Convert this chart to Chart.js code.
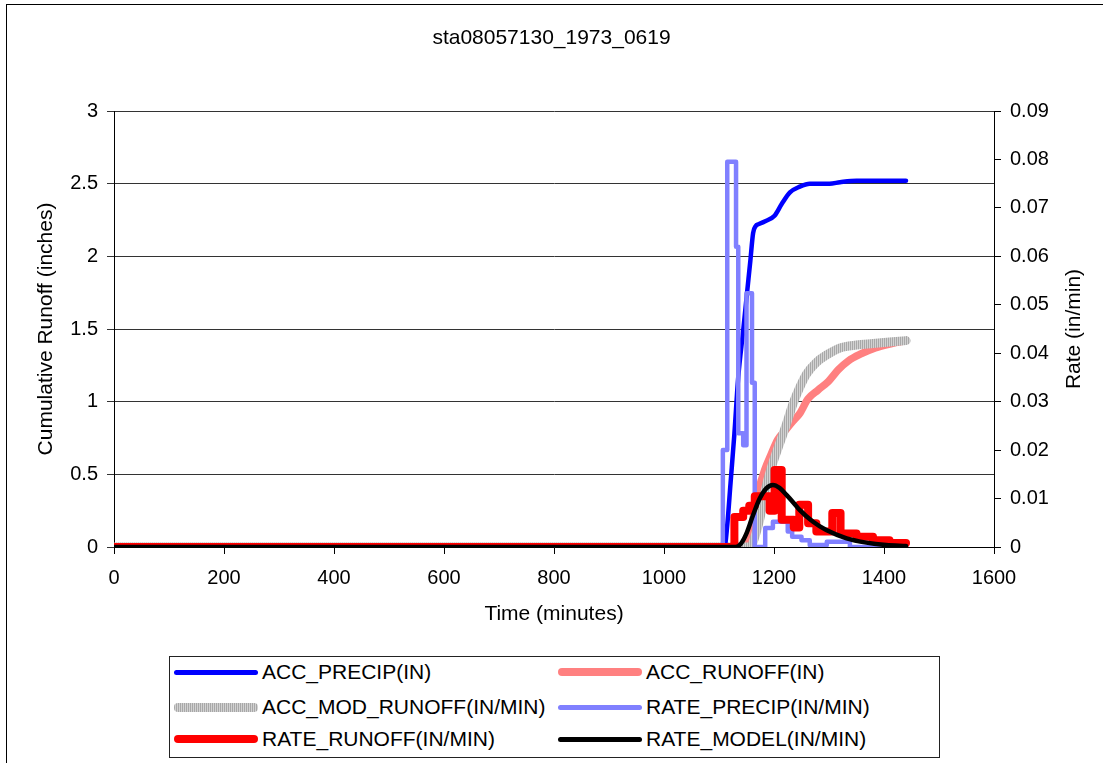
<!DOCTYPE html>
<html>
<head>
<meta charset="utf-8">
<script src="https://cdn.jsdelivr.net/npm/chart.js@4"></script>
<style>
  html, body { margin: 0; padding: 0; background: #fff; overflow: hidden; }
  #page { position: relative; width: 1103px; height: 763px; overflow: hidden; }
  #frame { position: absolute; left: 6px; top: 4px; width: 1200px; height: 900px;
           border-left: 1px solid #000; border-top: 1px solid #000; }
  #wrap { position: absolute; left: 0; top: 0; width: 1103px; height: 763px; }
  #legend { position: absolute; left: 169px; top: 656px; width: 769px; height: 100px;
            border: 1px solid #222; background: #fff;
            font-family: "Liberation Sans", Arial, sans-serif; font-size: 21px; color: #000; }
  .item { position: absolute; height: 24px; line-height: 24px; white-space: nowrap; }
  .swatch { position: absolute; left: 0; width: 84px; border-radius: 4px; }
  .label { position: absolute; left: 88px; top: 0; }
</style>
</head>
<body>
<div id="page">
  <div id="frame"></div>
  <div id="wrap"><canvas id="runoffChart"></canvas></div>
  <div id="legend"></div>
</div>
<script>
// ---- data (time in minutes) ----
const chartTitle = 'sta08057130_1973_0619';

const accPrecipTime = [0, 1110, 1115, 1121, 1128, 1135, 1144, 1151, 1157, 1162, 1167, 1171, 1183, 1201, 1214, 1229, 1247, 1265, 1301, 1320, 1350, 1440];
const accPrecipIn   = [0, 0, 0.15, 0.44, 0.78, 1.17, 1.49, 1.75, 1.97, 2.16, 2.21, 2.22, 2.24, 2.28, 2.36, 2.44, 2.48, 2.50, 2.50, 2.51, 2.52, 2.52];

const accRunoffTime = [0, 1148, 1156, 1163, 1172, 1183, 1195, 1207, 1220, 1233, 1247, 1262, 1280, 1299, 1317, 1335, 1359, 1384, 1414, 1440];
const accRunoffIn   = [0, 0, 0.08, 0.22, 0.39, 0.53, 0.64, 0.74, 0.80, 0.86, 0.92, 1.02, 1.08, 1.14, 1.22, 1.28, 1.33, 1.37, 1.40, 1.42];

const accModTime = [0, 1150, 1159, 1166, 1174, 1186, 1198, 1211, 1223, 1235, 1247, 1259, 1277, 1295, 1320, 1350, 1380, 1440];
const accModIn   = [0, 0, 0.01, 0.08, 0.19, 0.42, 0.58, 0.72, 0.85, 0.99, 1.10, 1.19, 1.27, 1.32, 1.37, 1.39, 1.40, 1.42];

// step series: each value holds until the next time
const ratePrecipTime = [0, 1107, 1115, 1131, 1135, 1144, 1150, 1160, 1165, 1184, 1198, 1225, 1233, 1250, 1265, 1296, 1338, 1440];
const ratePrecip     = [0, 0.020, 0.0795, 0.062, 0.0235, 0.021, 0.0524, 0.0339, 0, 0.0039, 0.0052, 0.0032, 0.0021, 0.0014, 0.0004, 0.0011, 0, 0];

const rateRunoffTime = [0, 1128, 1144, 1155, 1165, 1192, 1201, 1214, 1236, 1246, 1262, 1277, 1306, 1321, 1350, 1380, 1410, 1440];
const rateRunoff     = [0, 0.0062, 0.0075, 0.0085, 0.0105, 0.0075, 0.0159, 0.0056, 0.0040, 0.0087, 0.0049, 0.0032, 0.0070, 0.0028, 0.0021, 0.0014, 0.0008, 0.0008];

const rateModelTime = [0, 1130, 1140, 1150, 1162, 1174, 1186, 1198, 1210, 1223, 1235, 1247, 1271, 1295, 1332, 1368, 1404, 1440];
const rateModel     = [0, 0, 0.0007, 0.0028, 0.0066, 0.0100, 0.0121, 0.0128, 0.0122, 0.0107, 0.0092, 0.0076, 0.0052, 0.0035, 0.0018, 0.0009, 0.0004, 0.0002];

const xTicks = { min: 0, max: 1600, step: 200 };
const yLeftTicks = { min: 0, max: 3, step: 0.5 };
const yRightTicks = { min: 0, max: 0.09, step: 0.01 };

const FONT = '"Liberation Sans", Arial, sans-serif';

function pairs(ts, vs) {
  return ts.map((t, i) => ({ x: t, y: vs[i] }));
}

// grey hatched look of the modelled accumulation
const pc = document.createElement('canvas');
pc.width = 2; pc.height = 2;
const pctx = pc.getContext('2d');
pctx.fillStyle = '#d2d2d2'; pctx.fillRect(0, 0, 2, 2);
pctx.fillStyle = '#a8a8a8'; pctx.fillRect(0, 0, 1, 2);
const greyHatch = pctx.createPattern(pc, 'repeat');

const series = [
  { label: 'ACC_PRECIP(IN)', data: pairs(accPrecipTime, accPrecipIn), yAxisID: 'y',
    color: '#0000ff', width: 4.5, order: 3, smooth: true, swatch: '#0000ff' },
  { label: 'ACC_RUNOFF(IN)', data: pairs(accRunoffTime, accRunoffIn), yAxisID: 'y',
    color: '#ff8080', width: 7.5, order: 5, smooth: true, swatch: '#ff8080' },
  { label: 'ACC_MOD_RUNOFF(IN/MIN)', data: pairs(accModTime, accModIn), yAxisID: 'y',
    color: greyHatch, width: 9, order: 4, smooth: true,
    swatch: 'repeating-linear-gradient(90deg, #a8a8a8 0 1px, #d2d2d2 1px 2px)' },
  { label: 'RATE_PRECIP(IN/MIN)', data: pairs(ratePrecipTime, ratePrecip), yAxisID: 'y2',
    color: '#8080ff', width: 4.5, order: 2, stepped: true, swatch: '#8080ff' },
  { label: 'RATE_RUNOFF(IN/MIN)', data: pairs(rateRunoffTime, rateRunoff), yAxisID: 'y2',
    color: '#ff0000', width: 8, order: 1, stepped: true, swatch: '#ff0000' },
  { label: 'RATE_MODEL(IN/MIN)', data: pairs(rateModelTime, rateModel), yAxisID: 'y2',
    color: '#000000', width: 4.5, order: 0, smooth: true, swatch: '#000000' }
];

const rightTitle = {
  id: 'rightTitle',
  afterDraw(chart) {
    const s = chart.scales.y2;
    const area = chart.chartArea;
    const ctx = chart.ctx;
    ctx.save();
    ctx.translate(s.left + 80, (area.top + area.bottom) / 2);
    ctx.rotate(-Math.PI / 2);
    ctx.font = '21px ' + FONT;
    ctx.fillStyle = '#000';
    ctx.textAlign = 'center';
    ctx.textBaseline = 'middle';
    ctx.fillText('Rate (in/min)', 0, 0);
    ctx.restore();
  }
};

const chart = new Chart('runoffChart', {
  type: 'line',
  data: {
    datasets: series.map(s => ({
      label: s.label,
      data: s.data,
      yAxisID: s.yAxisID,
      xAxisID: 'x',
      borderColor: s.color,
      backgroundColor: s.color,
      borderWidth: s.width,
      borderCapStyle: 'round',
      borderJoinStyle: 'round',
      pointRadius: 0,
      fill: false,
      order: s.order,
      stepped: s.stepped || false,
      cubicInterpolationMode: s.smooth ? 'monotone' : 'default'
    }))
  },
  options: {
    responsive: true,
    maintainAspectRatio: false,
    animation: false,
    events: [],
    layout: { padding: { top: 4, left: 0, right: 0, bottom: 136 } },
    plugins: {
      legend: { display: false },
      tooltip: { enabled: false },
      title: {
        display: true,
        text: chartTitle,
        color: '#000',
        font: { family: FONT, size: 21, weight: 'normal' },
        padding: { top: 22, bottom: 59.8 }
      }
    },
    scales: {
      x: {
        type: 'linear',
        position: 'bottom',
        min: xTicks.min,
        max: xTicks.max,
        afterFit: s => { s.height = 80; },
        ticks: { stepSize: xTicks.step, color: '#000', padding: 12,
                 font: { family: FONT, size: 20 }, maxRotation: 0,
                 callback: v => String(v) },
        grid: { drawOnChartArea: false, drawTicks: true, tickLength: 7, color: '#000' },
        border: { display: true, color: '#000', width: 1 },
        title: { display: true, text: 'Time (minutes)', color: '#000',
                 font: { family: FONT, size: 21 }, padding: { top: 0, bottom: 0 } }
      },
      y: {
        type: 'linear',
        position: 'left',
        min: yLeftTicks.min,
        max: yLeftTicks.max,
        afterFit: s => { s.width = 114; },
        ticks: { stepSize: yLeftTicks.step, color: '#000', padding: 9,
                 font: { family: FONT, size: 20 },
                 callback: v => String(Number(v.toFixed(1))) },
        grid: { drawOnChartArea: true, drawTicks: true, tickLength: 7, color: '#333' },
        border: { display: true, color: '#000', width: 1 },
        title: { display: true, text: 'Cumulative Runoff (inches)', color: '#000',
                 font: { family: FONT, size: 21 }, padding: { top: 33.4, bottom: 0 } }
      },
      y2: {
        type: 'linear',
        position: 'right',
        min: yRightTicks.min,
        max: yRightTicks.max,
        afterFit: s => { s.width = 109; },
        ticks: { stepSize: yRightTicks.step, color: '#000', padding: 9,
                 font: { family: FONT, size: 20 },
                 callback: v => String(Number(v.toFixed(2))) },
        grid: { drawOnChartArea: false, drawTicks: true, tickLength: 7, color: '#000' },
        border: { display: true, color: '#000', width: 1 }
      }
    }
  },
  plugins: [rightTitle]
});

// legend box in two columns, as in the original
const legend = document.getElementById('legend');
const colX = [4, 388];
const rowY = [15, 50, 82];
series.forEach((s, i) => {
  const item = document.createElement('div');
  item.className = 'item';
  item.style.left = colX[i % 2] + 'px';
  item.style.top = (rowY[Math.floor(i / 2)] - 12) + 'px';
  const sw = document.createElement('div');
  sw.className = 'swatch';
  sw.style.height = Math.round(s.width) + 'px';
  sw.style.top = (12 - Math.round(s.width) / 2) + 'px';
  sw.style.background = s.swatch;
  const lab = document.createElement('span');
  lab.className = 'label';
  lab.textContent = s.label;
  item.appendChild(sw);
  item.appendChild(lab);
  legend.appendChild(item);
});
</script>
</body>
</html>
